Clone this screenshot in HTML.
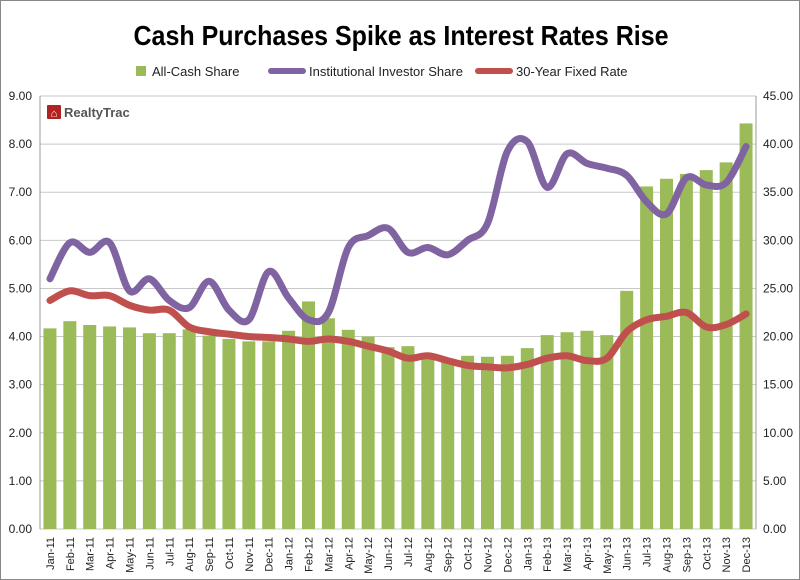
<!DOCTYPE html>
<html><head><meta charset="utf-8"><style>
body{margin:0;background:#fff;font-family:"Liberation Sans",sans-serif}
#wrap{position:relative;width:798px;height:578px;border:1px solid #888;overflow:hidden}
svg{position:absolute;left:0;top:0}
</style></head><body>
<div id="wrap">
<svg id="c" width="800" height="580"></svg>
</div>
<script>
const categories=["Jan-11","Feb-11","Mar-11","Apr-11","May-11","Jun-11","Jul-11","Aug-11","Sep-11","Oct-11","Nov-11","Dec-11","Jan-12","Feb-12","Mar-12","Apr-12","May-12","Jun-12","Jul-12","Aug-12","Sep-12","Oct-12","Nov-12","Dec-12","Jan-13","Feb-13","Mar-13","Apr-13","May-13","Jun-13","Jul-13","Aug-13","Sep-13","Oct-13","Nov-13","Dec-13"];
const cashShare=[4.17,4.32,4.24,4.21,4.19,4.07,4.07,4.15,4.02,3.95,3.9,3.9,4.12,4.73,4.38,4.14,4.0,3.78,3.8,3.6,3.5,3.6,3.58,3.6,3.76,4.03,4.09,4.12,4.03,4.95,7.12,7.28,7.38,7.46,7.62,8.43];
const investorShare=[5.2,5.95,5.75,5.95,4.95,5.2,4.75,4.6,5.15,4.55,4.35,5.35,4.8,4.35,4.5,5.85,6.1,6.25,5.75,5.85,5.7,6.0,6.35,7.85,8.05,7.1,7.8,7.6,7.5,7.35,6.8,6.55,7.3,7.15,7.2,7.95];
const fixedRate=[4.75,4.95,4.85,4.85,4.65,4.55,4.55,4.2,4.1,4.05,4.0,3.98,3.95,3.9,3.95,3.9,3.8,3.7,3.55,3.6,3.5,3.4,3.37,3.35,3.42,3.55,3.6,3.5,3.55,4.1,4.35,4.42,4.5,4.2,4.25,4.47];
const leftTicks=["0.00","1.00","2.00","3.00","4.00","5.00","6.00","7.00","8.00","9.00"];
const rightTicks=["0.00","5.00","10.00","15.00","20.00","25.00","30.00","35.00","40.00","45.00"];

const NS="http://www.w3.org/2000/svg",svg=document.getElementById('c');
const X0=39,X1=755,Y0=528,Y1=95,MAX=9;
const band=(X1-X0)/categories.length;
const xc=i=>X0+band*(i+0.5);
const y=v=>Y0-(v/MAX)*(Y0-Y1);
function mk(t,a,txt){const e=document.createElementNS(NS,t);for(const k in a)e.setAttribute(k,a[k]);if(txt!==undefined)e.textContent=txt;svg.appendChild(e);return e;}

let e=mk('text',{x:400,y:44,'text-anchor':'middle','font-size':28,'font-weight':'bold',fill:'#000',textLength:535,lengthAdjust:'spacingAndGlyphs'},'Cash Purchases Spike as Interest Rates Rise');


leftTicks.forEach((t,i)=>{
  const yy=y(i*MAX/(leftTicks.length-1));
  let g=mk('line',{x1:X0,x2:X1,y1:yy,y2:yy,stroke:'#c8c8c8','stroke-width':1});
  
  let l=mk('text',{x:31,y:yy+4,'text-anchor':'end','font-size':12,fill:'#222'},t);
  
  let r=mk('text',{x:762,y:yy+4,'text-anchor':'start','font-size':12,fill:'#222'},rightTicks[i]);
  
});
mk('line',{x1:X0,x2:X0,y1:Y1,y2:Y0,stroke:'#999'});
mk('line',{x1:X1,x2:X1,y1:Y1,y2:Y0,stroke:'#999'});

cashShare.forEach((v,i)=>{
  const w=13;
  let b=mk('rect',{x:xc(i)-w/2,y:y(v),width:w,height:Y0-y(v),fill:'#9bbb59'});
  
  
});
categories.forEach((c,i)=>{
  let t=mk('text',{transform:`translate(${xc(i)+4},${Y0+8}) rotate(-90)`,'text-anchor':'end','font-size':11,fill:'#222'},c);
  
});

function smooth(arr){
  const p=arr.map((v,i)=>[xc(i),y(v)]);
  let d=`M${p[0][0]},${p[0][1]}`;
  for(let i=0;i<p.length-1;i++){
    const p0=p[i-1]||p[i],p1=p[i],p2=p[i+1],p3=p[i+2]||p2;
    const c1=[p1[0]+(p2[0]-p0[0])/6,p1[1]+(p2[1]-p0[1])/6];
    const c2=[p2[0]-(p3[0]-p1[0])/6,p2[1]-(p3[1]-p1[1])/6];
    d+=`C${c1[0]},${c1[1]} ${c2[0]},${c2[1]} ${p2[0]},${p2[1]}`;
  }
  return d;
}
let l1=mk('path',{d:smooth(investorShare),fill:'none',stroke:'#8064a2','stroke-width':7,'stroke-linecap':'round'});

let l2=mk('path',{d:smooth(fixedRate),fill:'none',stroke:'#c0504d','stroke-width':7,'stroke-linecap':'round'});


const leg=[["All-Cash Share","#9bbb59",'rect',155],["Institutional Investor Share","#8064a2",'line',312],["30-Year Fixed Rate","#c0504d",'line',519]];
leg.forEach(([n,c,k,x])=>{
  let s;
  if(k==='rect') s=mk('rect',{x:x-20,y:65,width:10,height:10,fill:c});
  else s=mk('line',{x1:x-42,x2:x-10,y1:70,y2:70,stroke:c,'stroke-width':6,'stroke-linecap':'round'});
  
  let t=mk('text',{x:x-4,y:75,'font-size':13,fill:'#222'},n);
  
});

let lg=mk('rect',{x:46,y:104,width:14,height:14,fill:'#b22222',rx:1});

mk('text',{x:53,y:116,'text-anchor':'middle','font-size':11,'font-weight':'bold',fill:'#fff'},'⌂');
let lt=mk('text',{x:63,y:116,'font-size':13,'font-weight':'bold',fill:'#555'},'RealtyTrac');

</script>
</body></html>
